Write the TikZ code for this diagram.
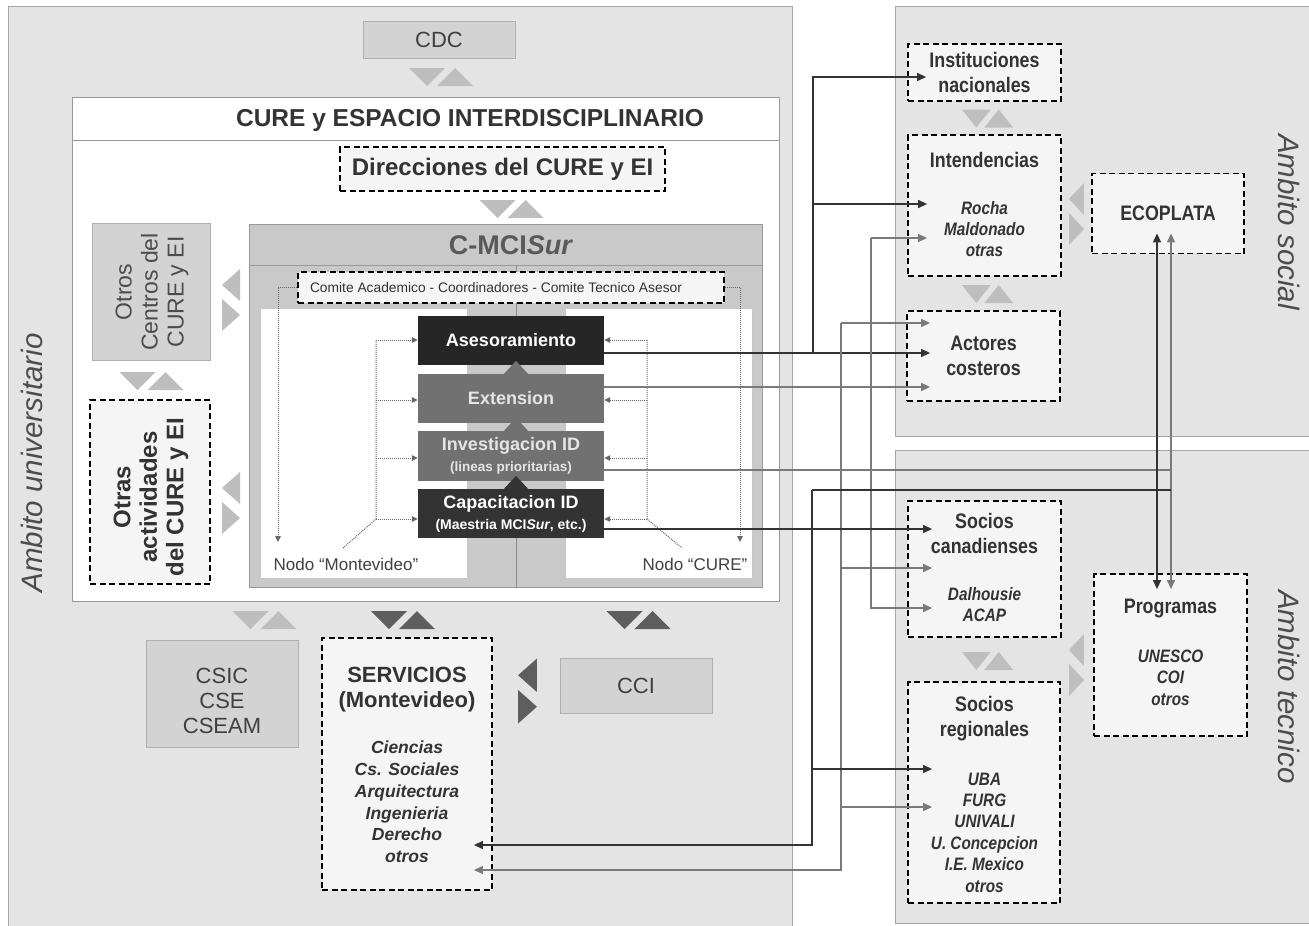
\documentclass[tikz,border=0pt]{standalone}
\usepackage{fontspec}
\setmainfont{Liberation Sans}
\newfontfamily\narrowsf[FakeStretch=0.85]{Liberation Sans}
\usetikzlibrary{arrows.meta,calc}

\definecolor{panelgray}{HTML}{E4E4E4}
\definecolor{boxgray}{HTML}{D3D3D3}
\definecolor{boxline}{HTML}{B0B0B0}
\definecolor{dashfill}{HTML}{F5F5F5}
\definecolor{cmcigray}{HTML}{C9C9C9}
\definecolor{blkdark}{HTML}{262626}
\definecolor{blkcap}{HTML}{333333}
\definecolor{blkmid}{HTML}{717171}
\definecolor{linedark}{HTML}{333333}
\definecolor{linegray}{HTML}{7A7A7A}
\definecolor{trilight}{HTML}{BEBEBE}
\definecolor{tridark}{HTML}{5E5E5E}
\definecolor{txtdark}{HTML}{333333}

\newcommand{\fsz}[2]{\fontsize{#1}{#2}\selectfont}

\begin{document}
\begin{tikzpicture}[
    x=1pt, y=-1pt,
    >={Triangle[length=9pt,width=8pt]},
    panel/.style    = {draw=black!35, fill=panelgray, inner sep=0pt},
    graybox/.style  = {draw=boxline, fill=boxgray, inner sep=0pt, text=black!75, font=\fsz{22}{25}},
    whitebox/.style = {draw=black!40, fill=white, inner sep=0pt},
    cmcibox/.style  = {draw=black!40, fill=cmcigray, line width=1pt, inner sep=0pt},
    innerbox/.style = {draw=black!22, fill=white, inner sep=0pt},
    dashbox/.style  = {draw=black, fill=dashfill, line width=1.8pt, dash pattern=on 6pt off 3.5pt, inner sep=0pt, align=center, text=txtdark},
    blk/.style      = {inner sep=0pt, minimum width=186pt, minimum height=49pt, align=center, font=\bfseries\fsz{18}{21}},
    nar/.style      = {font=\narrowsf\bfseries\fsz{21}{25}, align=center, text=txtdark},
    narit/.style    = {font=\narrowsf\bfseries\itshape\fsz{18}{21.4}, align=center, text=txtdark},
    ambito/.style   = {font=\itshape\fsz{29.5}{32}, text=black!70},
    nodolab/.style  = {font=\fsz{17}{20}, text=black!75},
    dk/.style       = {draw=linedark, line width=1.3pt, ->},
    dkline/.style   = {draw=linedark, line width=1.3pt},
    gy/.style       = {draw=linegray, line width=1.3pt, ->},
    dots/.style     = {draw=black!60, densely dotted, line width=1pt, -{Triangle[length=6pt,width=5.5pt]}},
    dotline/.style  = {draw=black!60, densely dotted, line width=1pt},
    pics/vtri/.style = {code={
        \fill[#1] (-32,-9) -- (4,-9) -- (-14,9) -- cycle;
        \fill[#1] (-4,9) -- (32,9) -- (14,-9) -- cycle;
      }},
    pics/htri/.style = {code={
        \fill[#1] (9,-31) -- (9,1) -- (-9,-15) -- cycle;
        \fill[#1] (-9,-1) -- (-9,31) -- (9,15) -- cycle;
      }},
    pics/uptip/.style = {code={
        \fill[#1] (-12,0) -- (12,0) -- (0,-13) -- cycle;
      }}
  ]
  \path[fill=white, use as bounding box] (0,0) rectangle (1309,926);

  % the three ambitos
  \node[panel, minimum width=784pt, minimum height=924pt] (univ) at (400,468) {};
  \node[panel, minimum width=420pt, minimum height=430pt] (soc) at (1105,221) {};
  \node[panel, minimum width=420pt, minimum height=473pt] (tec) at (1105,686.5) {};
  \node[ambito, rotate=90] (univT) at (32,463) {Ambito universitario};
  \node[ambito, rotate=-90] (socT) at (1289,222) {Ambito social};
  \node[ambito, rotate=-90] (tecT) at (1289,687) {Ambito tecnico};

  % CDC and CURE
  \node[graybox, minimum width=152pt, minimum height=37pt] (cdc) at (439,39.5) {CDC};
  \pic at (441,77) {vtri=trilight};
  \node[whitebox, minimum width=707pt, minimum height=504pt] (cure) at (425.5,349) {};
  \node[whitebox, minimum width=707pt, minimum height=43pt] (cureHead) at (425.5,118.5) {};
  \node[font=\bfseries\fsz{24.5}{28}, text=txtdark] (cureT) at (470,120) {CURE y ESPACIO INTERDISCIPLINARIO};
  \node[dashbox, minimum width=325pt, minimum height=44pt, font=\bfseries\fsz{24}{28}] (dir) at (502.5,169) {Direcciones del CURE y EI};
  \pic at (511.5,209) {vtri=trilight};

  % C-MCISur
  \node[cmcibox, minimum width=513pt, minimum height=363pt] (cmci) at (505.5,405.5) {};
  \node[cmcibox, minimum width=513pt, minimum height=41pt] (cmciHead) at (505.5,244.5) {};
  \node[font=\bfseries\fsz{27}{30}, text=black!65] (cmciT) at (511,245) {C-MCI\textit{Sur}};
  \node[innerbox, minimum width=207pt, minimum height=270pt] (mvPanel) at (363.5,443) {};
  \node[innerbox, minimum width=187pt, minimum height=270pt] (cuPanel) at (658.5,443) {};
  \coordinate (mid) at (516,0);
  \draw[black!45, line width=1pt] (mid |- cmciHead.south) -- (mid |- cmci.south);
  \node[dashbox, minimum width=426pt, minimum height=31pt] (comite) at (511,287.5) {};
  \node[font=\fsz{13.8}{16}, text=txtdark] (comiteT) at (496,288) {Comite Academico - Coordinadores - Comite Tecnico Asesor};

  \node[blk, fill=blkdark, text=white] (ases) at (511,340.5) {Asesoramiento};
  \node[blk, fill=blkmid, text=black!10] (exten) at (511,398.5) {Extension};
  \node[blk, fill=blkmid, text=black!10, minimum height=50pt] (invest) at (511,456) {Investigacion ID\\{\fsz{13.5}{16}(lineas prioritarias)}};
  \node[blk, fill=blkcap, text=white] (capac) at (511,513.5) {Capacitacion ID\\{\fsz{14}{16}(Maestria MCI\textit{Sur}, etc.)}};
  \pic at (mid |- exten.north) {uptip=blkmid};
  \pic at (mid |- invest.north) {uptip=blkmid};
  \pic at (mid |- capac.north) {uptip=blkcap};

  % nodos
  \coordinate (mvEnd) at (278,542);
  \coordinate (cuEnd) at (740,542);
  \draw[dots] (comite.west) -| (mvEnd);
  \draw[dots] (comite.east) -| (cuEnd);
  \coordinate (mvBus) at (376,340);
  \coordinate (cuBus) at (647,340);
  \coordinate (mvTip) at (343,548);
  \coordinate (cuTip) at (682,548);
  \draw[dotline] (mvBus) -- (mvBus |- 0,519) -- (mvTip);
  \draw[dotline] (cuBus) -- (cuBus |- 0,519) -- (cuTip);
  \foreach \b/\y in {ases/340,exten/400,invest/458,capac/519}{
    \draw[dots] (mvBus |- 0,\y) -- (\b.west |- 0,\y);
    \draw[dots] (cuBus |- 0,\y) -- (\b.east |- 0,\y);
  }
  \node[nodolab] (mvLab) at (346,564) {Nodo “Montevideo”};
  \node[nodolab] (cuLab) at (695,564) {Nodo “CURE”};

  % left column
  \node[graybox, minimum width=118pt, minimum height=137pt] (otrosC) at (151,291.5) {};
  \node[rotate=90, align=center, font=\fsz{23}{26}, text=black!70] (otrosCT) at (152,292) {Otros\\Centros del\\CURE y EI};
  \pic at (231,300) {htri=trilight};
  \pic at (151.5,381) {vtri=trilight};
  \node[dashbox, minimum width=120pt, minimum height=184pt] (otrasA) at (150,492) {};
  \node[rotate=90, align=center, font=\bfseries\fsz{24}{26.5}, text=txtdark] (otrasAT) at (151,497) {Otras\\actividades\\del CURE y EI};
  \pic at (231,503) {htri=trilight};

  % bottom row
  \pic at (264.5,620) {vtri=trilight};
  \pic at (403,620) {vtri=tridark};
  \pic at (638.5,620) {vtri=tridark};
  \node[graybox, minimum width=152pt, minimum height=107pt] (csic) at (222,693.5) {};
  \node[align=center, font=\fsz{22}{25}, text=black!75] (csicT) at (222,701) {CSIC\\CSE\\CSEAM};
  \node[dashbox, minimum width=170pt, minimum height=252pt] (serv) at (407,764) {};
  \node[align=center, font=\bfseries\fsz{22}{25}, text=txtdark] (servT) at (407,690) {SERVICIOS\\(Montevideo)};
  \node[align=center, font=\bfseries\itshape\fsz{17.5}{21.8}, text=txtdark] (servL) at (407,802) {Ciencias\\Cs. Sociales\\Arquitectura\\Ingenieria\\Derecho\\otros};
  \pic[xscale=1.05, yscale=1.05] at (527.5,691) {htri=tridark};
  \node[graybox, minimum width=152pt, minimum height=55pt] (cci) at (636,685.5) {CCI};

  % ambito social
  \node[dashbox, minimum width=153pt, minimum height=57pt, nar] (inst) at (984.5,72.5) {Instituciones\\nacionales};
  \pic[xscale=0.8] at (987.5,118.5) {vtri=trilight};
  \node[dashbox, minimum width=153pt, minimum height=141pt] (intend) at (984.5,205.5) {};
  \node[nar] (intendT) at (984.5,160) {Intendencias};
  \node[narit] (intendL) at (984.5,229) {Rocha\\Maldonado\\otras};
  \pic[xscale=0.8] at (987.5,294) {vtri=trilight};
  \node[dashbox, minimum width=153pt, minimum height=90pt, nar] (actor) at (983.5,356) {Actores\\costeros};
  \node[dashbox, minimum width=152pt, minimum height=80pt, nar] (eco) at (1168,213.5) {ECOPLATA};
  \pic[xscale=0.83] at (1076.5,214) {htri=trilight};

  % ambito tecnico
  \node[dashbox, minimum width=153pt, minimum height=136pt] (socCa) at (984.5,569) {};
  \node[nar] (socCaT) at (984.5,533.5) {Socios\\canadienses};
  \node[narit] (socCaL) at (984.5,604.5) {Dalhousie\\ACAP};
  \pic[xscale=0.8] at (987.5,661) {vtri=trilight};
  \node[dashbox, minimum width=152pt, minimum height=221pt] (socRe) at (984,792.5) {};
  \node[nar] (socReT) at (984.5,719) {Socios\\regionales};
  \node[narit] (socReL) at (984.5,832.5) {UBA\\FURG\\UNIVALI\\U. Concepcion\\I.E. Mexico\\otros};
  \node[dashbox, minimum width=153pt, minimum height=162pt] (prog) at (1170.5,655) {};
  \node[nar] (progT) at (1170.5,608) {Programas};
  \node[narit] (progL) at (1170.5,677.5) {UNESCO\\COI\\otros};
  \pic[xscale=0.83] at (1076.5,665) {htri=trilight};

  % connectors
  \coordinate (busA) at (813,353);
  \draw[dk] ($(ases.east)+(0,12.5)$) -- ($(actor.west)+(24,-3)$);
  \draw[dk] (busA) |- ($(inst.west)+(19,4.5)$);
  \draw[dk] (busA |- 0,204) -- ($(intend.west)+(20,-1.5)$);
  \draw[gy] ($(exten.east)+(0,-11.5)$) -- ($(actor.west)+(24,31)$);

  \coordinate (busB) at (841,323);
  \draw[gy] (busB) -- ($(actor.west)+(24,-33)$);
  \draw[gy] (busB) |- ($(serv.east)+(-19,106)$);
  \draw[gy] (busB |- 0,568) -- ($(socCa.west)+(25,-1)$);
  \draw[gy] (busB |- 0,807) -- ($(socRe.west)+(25,14.5)$);

  \coordinate (busC) at (871,238);
  \draw[gy] (busC) -- ($(intend.west)+(20,32.5)$);
  \draw[gy] (busC) |- ($(socCa.west)+(25,39)$);

  \coordinate (busE) at (1171,470);
  \draw[gy, -] ($(invest.east)+(0,14)$) -- (busE);
  \draw[gy, <->] ($(eco.south)+(3,-21)$) -- ($(prog.north)+(0.5,16)$);
  \draw[dk, <->] ($(eco.south)+(-11,-21)$) -- ($(prog.north)+(-13.5,16)$);

  \coordinate (busD) at (812,490);
  \draw[dkline] (busE |- busD) -- (busD);
  \draw[dk] (busD) |- ($(serv.east)+(-19,81)$);
  \draw[dk] (busD |- 0,769) -- ($(socRe.west)+(25,-23.5)$);
  \draw[dk] ($(capac.east)+(0,15.5)$) -- ($(socCa.west)+(25,-40)$);
\end{tikzpicture}
\end{document}
